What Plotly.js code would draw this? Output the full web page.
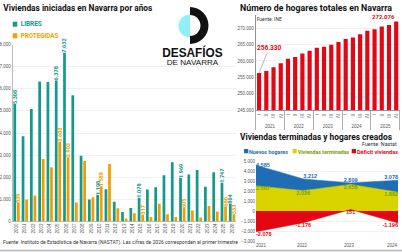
<!DOCTYPE html>
<html><head><meta charset="utf-8">
<script src="https://cdn.plot.ly/plotly-3.0.1.min.js"></script>
<style>html,body{margin:0;padding:0;background:#fff;}#chart{width:402px;height:252px;}</style>
</head><body><div id="chart"></div>
<script>
// ---- Chart 1: Viviendas iniciadas ----
const years = ['2000','2001','2002','2003','2004','2005','2006','2007','2008','2009','2010','2011','2012','2013','2014','2015','2016','2017','2018','2019','2020','2021','2022','2023','2024','2025','2026'];
const libres = [5308,3850,5090,6330,6300,6378,7632,5710,2970,990,1198,1460,890,430,610,1078,1450,1550,2090,2680,1969,2120,2330,1570,2230,1747,804];
const protegidas = [839,1000,1180,2830,2450,3603,2903,860,2730,1100,1588,2600,600,130,370,317,200,800,330,200,605,500,180,700,450,680,333];
const labeledYears = ['2000','2005','2006','2010','2015','2020','2025','2026'];

// ---- Chart 2: Hogares totales ----
const quarterYears = ['2021','2022','2023','2024','2025'];
const quarters = ['I','II','III','IV'];
const hogares = [256330,256900,258060,259280,260690,261200,262300,263100,264000,264360,264970,265800,266700,267200,268200,269200,269700,270500,271000,272076];

// ---- Chart 3: Viviendas terminadas y hogares creados ----
const periodos = [2021,2022,2023,2024];
const nuevosHogares = [4585,3212,2809,3078];
const viviendasTerminadas = [2507,2036,2658,1882];
const deficitViviendas = [-2078,-1176,151,-1196];

const W = 402, H = 252;
const px = x => x / W, py = y => 1 - y / H;
function fmt(v){ const s = String(Math.abs(Math.round(v))).replace(/\B(?=(\d{3})+(?!\d))/g,'.'); return (v<0?'-':'')+s; }

const TEAL='#149a8b', ORANGE='#f59d00', RED='#e30613', BLUE='#1f6db4', YELLOW='#d9d400', GREEN='#76a000';
const TF = "Roboto,'Liberation Sans',sans-serif";
const BF = "'Liberation Sans',sans-serif";

const qx = [[],[]];
quarterYears.forEach(y => quarters.forEach(q => { qx[0].push(y); qx[1].push(q); }));

const traces = [
  {type:'bar', x:years, y:libres, xaxis:'x', yaxis:'y', marker:{color:TEAL}, width:0.33, offset:-0.38,
   text: libres.map((v,i)=> labeledYears.includes(years[i]) ? fmt(v) : ''), textposition:'outside', textangle:-90,
   textfont:{family:TF, size:5.5, color:TEAL, weight:'bold'}, cliponaxis:false, constraintext:'none', hoverinfo:'none'},
  {type:'bar', x:years, y:protegidas, xaxis:'x', yaxis:'y', marker:{color:ORANGE}, width:0.33, offset:0.05,
   text: protegidas.map((v,i)=> labeledYears.includes(years[i]) ? fmt(v) : ''), textposition:'outside', textangle:-90,
   textfont:{family:TF, size:5.5, color:ORANGE, weight:'bold'}, cliponaxis:false, constraintext:'none', hoverinfo:'none'},
  {type:'bar', x:qx, y:hogares, xaxis:'x2', yaxis:'y2', marker:{color:RED}, width:0.58, hoverinfo:'none'},
  {type:'scatter', x:periodos, y:nuevosHogares, xaxis:'x3', yaxis:'y3', mode:'lines+text', fill:'tozeroy',
   fillcolor:BLUE, line:{color:BLUE, width:0.5}, text:nuevosHogares.map(fmt),
   textposition:['middle right','top right','top center','top left'], textfont:{family:BF,size:5.5,color:BLUE,weight:'bold'}, cliponaxis:false},
  {type:'scatter', x:periodos, y:viviendasTerminadas, xaxis:'x3', yaxis:'y3', mode:'lines+text', fill:'tozeroy',
   fillcolor:YELLOW, line:{color:YELLOW, width:0.5}, text:viviendasTerminadas.map(fmt),
   textposition:['bottom right','bottom center','bottom center','bottom left'], textfont:{family:BF,size:5.5,color:GREEN,weight:'bold'}, cliponaxis:false},
  {type:'scatter', x:periodos, y:deficitViviendas, xaxis:'x3', yaxis:'y3', mode:'lines+text', fill:'tozeroy',
   fillcolor:RED, line:{color:RED, width:0.5}, text:deficitViviendas.map(fmt),
   textposition:['bottom right','bottom center','bottom center','bottom left'], textfont:{family:BF,size:5.5,color:RED,weight:'bold'}, cliponaxis:false}
];

// logo helpers (paper coords from pixel coords, bezier arcs)
const K = 0.5523;
function P(x,y){ return px(x).toFixed(5)+','+py(y).toFixed(5); }
function leftHalfDisc(cx,cy,r){
  return 'M'+P(cx,cy-r)+' C'+P(cx-K*r,cy-r)+' '+P(cx-r,cy-K*r)+' '+P(cx-r,cy)+
         ' C'+P(cx-r,cy+K*r)+' '+P(cx-K*r,cy+r)+' '+P(cx,cy+r)+' Z';
}
function rightHalfRing(cx,cy,R,r){
  return 'M'+P(cx,cy-R)+' C'+P(cx+K*R,cy-R)+' '+P(cx+R,cy-K*R)+' '+P(cx+R,cy)+
         ' C'+P(cx+R,cy+K*R)+' '+P(cx+K*R,cy+R)+' '+P(cx,cy+R)+
         ' L'+P(cx,cy+r)+' C'+P(cx+K*r,cy+r)+' '+P(cx+r,cy+K*r)+' '+P(cx+r,cy)+
         ' C'+P(cx+r,cy-K*r)+' '+P(cx+K*r,cy-r)+' '+P(cx,cy-r)+' Z';
}
function rect(x0,y0,x1,y1,color){ return {type:'rect', xref:'paper', yref:'paper', x0:px(x0), x1:px(x1), y0:py(y1), y1:py(y0), fillcolor:color, line:{width:0}, layer:'above'}; }

const shapes = [
  rect(160,44,226,66,'#ffffff'),
  {type:'path', xref:'paper', yref:'paper', path:leftHalfDisc(190,26,11.5), fillcolor:'#8ff0f5', line:{width:0}, layer:'above'},
  {type:'path', xref:'paper', yref:'paper', path:rightHalfRing(190,25.5,18.5,10.5), fillcolor:'#111111', line:{width:0}, layer:'above'},
  rect(12.7,21.7,17.3,26.7,TEAL),
  rect(12.7,33.3,17.3,38.3,ORANGE),
  rect(244,149,248.3,153.3,BLUE),
  rect(292.7,149,296.7,153.3,YELLOW),
  rect(351.7,149,356,153.3,RED),
  {type:'line', xref:'paper', yref:'paper', x0:0, x1:1, y0:py(250.5), y1:py(250.5), line:{color:'#b5b5b5', width:1.5}, layer:'above'}
];

function txt(text,x,y,size,color,weight,family){
  return {text:text, xref:'paper', yref:'paper', x:px(x), y:py(y), xanchor:'left', yanchor:'middle', showarrow:false,
    font:{family:family||TF, size:size, color:color, weight:weight||'normal'}, borderpad:0};
}
// fitted text: left edge & width in pixels (presentation only)
const fits = [];
function fitTxt(text,left,width,y,size,color,weight,family){ fits.push({text:text,left:left,width:width}); return txt(text,left,y,size,color,weight,family); }

const annotations = [
  fitTxt('Viviendas iniciadas en Navarra por años',3.3,149,8,9,'#111','bold'),
  fitTxt('LIBRES',20.7,21,24.2,6.5,TEAL,'bold'),
  fitTxt('PROTEGIDAS',20.7,37.6,35.8,6.5,ORANGE,'bold'),
  fitTxt('DESAFÍOS',162.3,60.4,52.3,12.5,'#111','bold',BF),
  fitTxt('DE NAVARRA',166.7,51.6,62.9,7,'#111','normal',BF),
  fitTxt('Número de hogares totales en Navarra',240,152,8,8.6,'#111','bold'),
  fitTxt('Fuente: INE',256.7,25,19.5,5,'#333'),
  fitTxt('Viviendas terminadas y hogares creados',240,152,136.5,8.6,'#111','bold'),
  fitTxt('Fuente: Nastat',362,34.7,143.5,5,'#333'),
  fitTxt('Nuevos hogares',249,39,151.2,6,BLUE,'bold'),
  fitTxt('Viviendas terminadas',297.7,51.6,151.2,6,GREEN,'bold'),
  fitTxt('Déficit viviendas',357,41,151.2,6,RED,'bold'),
  fitTxt('Fuente: Instituto de Estadística de Navarra (NASTAT). Las cifras de 2026 corresponden al primer trimestre',3,235,242.5,5,'#333'),
  {text:fmt(hogares[0]), xref:'x2', yref:'y2', x:0, y:hogares[0], showarrow:true, arrowhead:0, arrowwidth:0.6, arrowcolor:'#888',
   ax:10, ay:-25, font:{family:TF,size:6.5,color:RED,weight:'bold'}, borderpad:0},
  {text:fmt(hogares[hogares.length-1]), xref:'x2', yref:'y2', x:hogares.length-1, y:hogares[hogares.length-1], showarrow:false,
   xanchor:'right', yanchor:'bottom', yshift:0, font:{family:TF,size:6,color:RED,weight:'bold'}, borderpad:0}
];
// x tick labels of chart 3 (first left-aligned, last right-aligned, as in the reference)
const anchors3 = ['left','center','center','right'];
periodos.forEach((p,i) => annotations.push({text:String(p), xref:'x3', yref:'paper', x:p, y:py(245), xanchor:anchors3[i], yanchor:'middle',
  showarrow:false, font:{family:BF, size:4.5, color:'#555'}, borderpad:0, xshift: i===0 ? -1 : (i===3 ? 1 : -1)}));

const tickF = {family:BF, size:4.5, color:'#555'};
const layout = {
  width:W, height:H, margin:{l:0,r:0,t:0,b:0}, paper_bgcolor:'#fff', plot_bgcolor:'rgba(0,0,0,0)',
  showlegend:false, separators:',.', barmode:'overlay', font:{family:BF},
  xaxis:{type:'category', domain:[px(12.4),px(236.2)], range:[-0.5,26.5], anchor:'y', tickangle:-90, tickfont:tickF,
         showgrid:false, showline:false, ticks:'', fixedrange:true},
  yaxis:{domain:[py(221.5),py(44.5)], range:[0,8000], dtick:1000, tickformat:',d', anchor:'x', gridcolor:'#e8e8e8', gridwidth:0.6,
         showline:true, linecolor:'#aaa', linewidth:0.8, zeroline:true, zerolinecolor:'#aaa', zerolinewidth:0.8, tickfont:tickF, ticks:''},
  xaxis2:{type:'multicategory', domain:[px(255.5),px(399.8)], range:[-0.5,19.5], anchor:'y2', tickfont:tickF, showgrid:false,
          showline:true, linecolor:'#777', linewidth:0.8, showdividers:true, dividercolor:'#999', dividerwidth:0.8, ticks:''},
  yaxis2:{domain:[py(110),py(15.17)], range:[245000,274000], tickvals:[245000,250000,255000,260000,265000,270000], tickformat:',d',
          anchor:'x2', gridcolor:'#e8e8e8', gridwidth:0.6, showline:true, linecolor:'#777', linewidth:0.8, zeroline:false, tickfont:tickF, ticks:''},
  xaxis3:{domain:[px(256),px(398)], range:[2021,2024], tickvals:periodos, showticklabels:false, anchor:'y3', showgrid:false,
          showline:false, zeroline:false, ticks:''},
  yaxis3:{domain:[py(241),py(161)], range:[-3000,5000], dtick:1000, tickformat:',d', anchor:'x3', gridcolor:'#e8e8e8', gridwidth:0.6,
          showline:false, zeroline:false, tickfont:tickF, ticks:''},
  shapes:shapes, annotations:annotations
};
Plotly.newPlot('chart', traces, layout, {staticPlot:true, displayModeBar:false}).then(function(){
  const host = document.getElementById('chart').getBoundingClientRect();
  document.querySelectorAll('#chart text.annotation-text').forEach(function(el){
    const f = fits.find(function(s){ return s.text === el.textContent; });
    if (!f) return;
    el.setAttribute('lengthAdjust','spacingAndGlyphs');
    el.setAttribute('textLength', f.width);
    const r = el.getBoundingClientRect();
    const x = parseFloat(el.getAttribute('x') || '0');
    el.setAttribute('x', x + (f.left - (r.left - host.left)));
  });
});
</script></body></html>
